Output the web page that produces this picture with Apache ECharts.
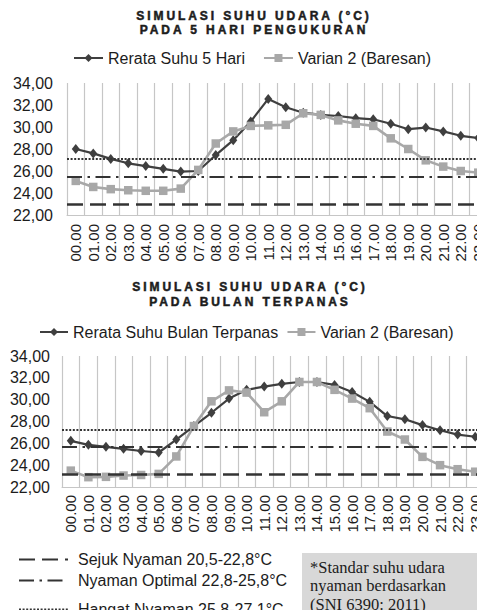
<!DOCTYPE html>
<html>
<head>
<meta charset="utf-8">
<script src="https://cdn.jsdelivr.net/npm/echarts@6/dist/echarts.min.js"></script>
<style>
html,body{margin:0;padding:0;overflow:hidden;background:#fff;}
#chart{width:500px;height:640px;}
#chart svg text[style*="bold"]{letter-spacing:2.9px;}
</style>
</head>
<body>
<div id="chart"></div>
<script>
// ---- data ----
const hours = ["00.00","01.00","02.00","03.00","04.00","05.00","06.00","07.00","08.00","09.00","10.00","11.00",
               "12.00","13.00","14.00","15.00","16.00","17.00","18.00","19.00","20.00","21.00","22.00","23.00"];
const yTicks = { min: 22, max: 34, interval: 2 };

const rerata5 = [28.0, 27.6, 27.1, 26.7, 26.45, 26.2, 25.95, 26.0, 27.45, 28.8, 30.5, 32.55,
                 31.8, 31.3, 31.1, 31.0, 30.8, 30.7, 30.3, 29.8, 29.95, 29.6, 29.2, 29.0];
const varian5 = [25.1, 24.55, 24.35, 24.25, 24.2, 24.2, 24.4, 26.1, 28.5, 29.6, 30.1, 30.15,
                 30.2, 31.25, 31.1, 30.6, 30.3, 30.1, 28.97, 28.0, 26.97, 26.4, 26.0, 25.85];

const rerataPanas = [26.23, 25.86, 25.68, 25.5, 25.3, 25.16, 26.35, 27.58, 28.8, 30.1, 30.9, 31.2,
                     31.45, 31.62, 31.62, 31.35, 30.7, 29.8, 28.5, 28.2, 27.67, 27.2, 26.8, 26.6];
const varianPanas = [23.5, 22.9, 22.93, 23.05, 23.1, 23.2, 24.8, 27.58, 29.85, 30.85, 30.65, 28.85,
                     29.85, 31.62, 31.62, 30.9, 30.1, 29.22, 27.08, 26.35, 24.76, 24.0, 23.63, 23.4];

// comfort thresholds (as drawn): Sejuk, Optimal, Hangat
const thresholdNames = ["Sejuk Nyaman 20,5-22,8°C", "Nyaman Optimal 22,8-25,8°C", "Hangat Nyaman 25,8-27,1°C"];
const thresholds5 = [23.0, 25.5, 27.1];
const thresholdsPanas = [23.15, 25.65, 27.25];

const titles = [
  "SIMULASI SUHU UDARA (°C)\nPADA 5 HARI PENGUKURAN",
  "SIMULASI SUHU UDARA (°C)\nPADA BULAN TERPANAS"
];
const seriesNames = ["Rerata Suhu 5 Hari", "Rerata Suhu Bulan Terpanas", "Varian 2 (Baresan)"];
const noteLines = "*Standar suhu udara\nnyaman berdasarkan\n(SNI 6390: 2011)";

// ---- styles ----
const FONT = '"Liberation Sans", Arial, sans-serif';
const TXT = '#1c1c1c';
const DARK = '#3f3f3f';
const LIGHT = '#a8a8a8';
const REF = '#333333';
const refStyles = [
  { type: [16, 7], width: 2.5 },
  { type: [15, 5.5, 2.5, 5.5], width: 2 },
  { type: [2, 1.6], width: 2 }
];

const chart = echarts.init(document.getElementById('chart'), null, { renderer: 'svg' });

function xAxis(gridIndex, margin) {
  return {
    type: 'category', gridIndex, data: hours, boundaryGap: true,
    axisLine: { show: true, lineStyle: { color: '#c6c6c6', width: 1 } },
    axisTick: { show: false },
    splitLine: { show: true, interval: 0, lineStyle: { color: '#c6c6c6', width: 1.2 } },
    axisLabel: { rotate: 90, interval: 0, margin, fontFamily: FONT, fontSize: 15, color: TXT }
  };
}
function yAxis(gridIndex, margin) {
  return {
    type: 'value', gridIndex, min: yTicks.min, max: yTicks.max, interval: yTicks.interval,
    axisLine: { show: false }, axisTick: { show: false }, splitLine: { show: false },
    axisLabel: { margin, fontFamily: FONT, fontSize: 16, color: TXT,
      formatter: v => v.toFixed(2).replace('.', ',') }
  };
}
function refSeries(idx, values) {
  return thresholdNames.map((name, i) => ({
    name, type: 'line', xAxisIndex: idx, yAxisIndex: idx, data: [], symbol: 'none', z: 1,
    lineStyle: { color: REF, width: refStyles[i].width, type: refStyles[i].type },
    itemStyle: { color: REF },
    markLine: {
      silent: true, symbol: ['none', 'none'], label: { show: false }, animation: false,
      lineStyle: { color: REF, width: refStyles[i].width, type: refStyles[i].type },
      emphasis: { disabled: true },
      data: [{ yAxis: values[i] }]
    }
  }));
}
function mainSeries(idx, name, data, dark) {
  return {
    name, type: 'line', xAxisIndex: idx, yAxisIndex: idx, data, z: dark ? 3 : 4,
    symbol: dark ? 'diamond' : 'rect', symbolSize: dark ? [8, 10] : 8.5, showAllSymbol: true,
    lineStyle: { color: dark ? DARK : LIGHT, width: dark ? 2.2 : 2.6 },
    itemStyle: { color: dark ? DARK : LIGHT },
    emphasis: { disabled: true }
  };
}
function refLegend(top, names) {
  return { left: 18, top, padding: 0, orient: 'vertical', itemGap: 5, itemWidth: 49, itemHeight: 12,
    height: 80, data: names,
    itemStyle: { color: 'rgba(0,0,0,0)', borderWidth: 0, opacity: 0 },
    textStyle: { fontFamily: FONT, fontSize: 16, color: TXT, padding: [0, 0, 0, 5] } };
}

const option = {
  animation: false,
  backgroundColor: '#ffffff',
  grid: [
    { left: 67, top: 83, width: 420, height: 132, outerBoundsMode: 'none', containLabel: false },
    { left: 62, top: 356, width: 422, height: 131, outerBoundsMode: 'none', containLabel: false }
  ],
  xAxis: [xAxis(0, 9), xAxis(1, 8)],
  yAxis: [yAxis(0, 14), yAxis(1, 12)],
  legend: [
    { left: 73, top: 50, padding: 0, itemGap: 18, itemWidth: 29, itemHeight: 10,
      data: [seriesNames[0], seriesNames[2]],
      textStyle: { fontFamily: FONT, fontSize: 16, color: TXT } },
    { left: 39, top: 324, padding: 0, itemGap: 8, itemWidth: 28, itemHeight: 10,
      data: [seriesNames[1], seriesNames[2]],
      textStyle: { fontFamily: FONT, fontSize: 16, color: TXT } },
    refLegend(551.5, thresholdNames.slice(0, 2)),
    refLegend(601.5, thresholdNames.slice(2))
  ],
  graphic: [
    { type: 'text', x: 254, y: 8.5, silent: true,
      style: { text: titles[0], font: 'bold 12px ' + FONT, fill: TXT, stroke: TXT, lineWidth: 0.5,
        textAlign: 'center', textVerticalAlign: 'top', lineHeight: 14.5 } },
    { type: 'text', x: 250, y: 279, silent: true,
      style: { text: titles[1], font: 'bold 12px ' + FONT, fill: TXT, stroke: TXT, lineWidth: 0.5,
        textAlign: 'center', textVerticalAlign: 'top', lineHeight: 15.5 } },
    { type: 'rect', x: 302, y: 553, silent: true, shape: { width: 175, height: 80 }, style: { fill: '#d8d8d8' } },
    { type: 'text', x: 310, y: 558, silent: true,
      style: { text: noteLines, font: '16.5px "Liberation Serif", "Times New Roman", serif', fill: TXT, lineHeight: 18.5, textVerticalAlign: 'top' } }
  ],
  series: [
    ...refSeries(0, thresholds5),
    ...refSeries(1, thresholdsPanas),
    mainSeries(0, seriesNames[0], rerata5, true),
    mainSeries(0, seriesNames[2], varian5, false),
    mainSeries(1, seriesNames[1], rerataPanas, true),
    mainSeries(1, seriesNames[2], varianPanas, false)
  ]
};
chart.setOption(option);
</script>
</body>
</html>
